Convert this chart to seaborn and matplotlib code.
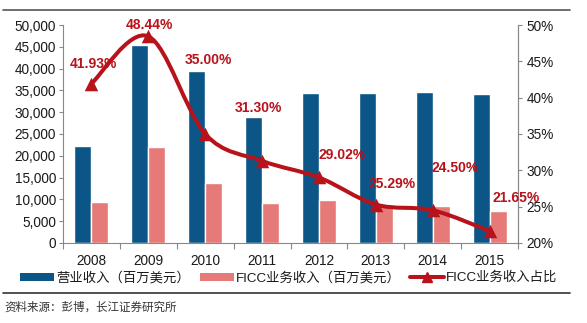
import matplotlib
matplotlib.use("Agg")
import matplotlib.pyplot as plt
import seaborn as sns
import pandas as pd
import numpy as np
from matplotlib.path import Path
from matplotlib.patches import PathPatch, Patch
from matplotlib.lines import Line2D
from matplotlib.ticker import FuncFormatter, FixedLocator

years = ["2008", "2009", "2010", "2011", "2012", "2013", "2014", "2015"]
revenue = [22300, 45400, 39500, 29000, 34300, 34300, 34700, 34100]
ficc = [9350, 21990, 13830, 9080, 9950, 8670, 8500, 7380]
ratio = [41.93, 48.44, 35.00, 31.30, 29.02, 25.29, 24.50, 21.65]
series_names = ["营业收入（百万美元）", "FICC业务收入（百万美元）", "FICC业务收入占比"]
source_text = "资料来源：彭博，长江证券研究所"

BLUE = "#0C5587"
PINK = "#E57A78"
RED = "#B8121B"
TXT = "#1a1a1a"

sns.set_theme(style="white")
plt.rcParams["font.family"] = ["Liberation Sans", "Noto Sans CJK SC", "DejaVu Sans"]

fig = plt.figure(figsize=(5.87, 3.23), dpi=100)
ax = fig.add_axes([0.1073, 0.2477, 0.7752, 0.6749])

df = pd.DataFrame({
    "year": years * 2,
    "value": revenue + ficc,
    "series": [series_names[0]] * 8 + [series_names[1]] * 8,
})
sns.barplot(data=df, x="year", y="value", hue="series", palette=[BLUE, PINK],
            width=0.6, ax=ax, legend=False, saturation=1, gap=0)

ax.set_xlim(-0.5, 7.5)
ax.set_ylim(0, 50000)
ax.yaxis.set_major_locator(FixedLocator(np.arange(0, 50001, 5000)))
ax.yaxis.set_major_formatter(FuncFormatter(lambda v, p: f"{int(v):,}"))
ax.set_xlabel("")
ax.set_ylabel("")
ax.tick_params(axis="y", labelsize=9.8, length=3, width=0.8, direction="out", left=True, pad=2, colors="#888888")
for lbl in ax.get_yticklabels():
    lbl.set_color(TXT)
ax.tick_params(axis="x", labelsize=9.8, length=0, pad=8)
for lbl in ax.get_xticklabels():
    lbl.set_color(TXT)
ax.set_xticks(np.arange(-0.5, 8.0, 1.0), minor=True)
ax.tick_params(axis="x", which="minor", length=4, width=0.8, color="#888888", direction="out", bottom=True)
ax.spines["top"].set_visible(False)
for s in ["left", "bottom", "right"]:
    ax.spines[s].set_color("#888888")
    ax.spines[s].set_linewidth(0.8)

ax2 = ax.twinx()
ax2.set_ylim(20, 50)
ax2.yaxis.set_major_locator(FixedLocator(np.arange(20, 51, 5)))
ax2.yaxis.set_major_formatter(FuncFormatter(lambda v, p: f"{int(v)}%"))
ax2.tick_params(axis="y", labelsize=9.8, length=3, width=0.8, direction="out", right=True, colors="#888888", pad=3)
for lbl in ax2.get_yticklabels():
    lbl.set_color(TXT)
for s in ["top", "left", "bottom"]:
    ax2.spines[s].set_visible(False)
ax2.spines["right"].set_color("#888888")
ax2.spines["right"].set_linewidth(0.8)
ax2.grid(False)
ax.grid(False)

# smoothed line (Catmull-Rom as Bezier) through the data points
xs = np.arange(len(ratio), dtype=float)
pts = np.column_stack([xs, np.array(ratio, dtype=float)])
verts = [tuple(pts[0])]
codes = [Path.MOVETO]
n = len(pts)
for i in range(n - 1):
    p0 = pts[i - 1] if i > 0 else pts[i]
    p1 = pts[i]
    p2 = pts[i + 1]
    p3 = pts[i + 2] if i + 2 < n else pts[i + 1]
    c1 = p1 + (p2 - p0) / 6.0
    c2 = p2 - (p3 - p1) / 6.0
    verts += [tuple(c1), tuple(c2), tuple(p2)]
    codes += [Path.CURVE4] * 3
ax2.add_patch(PathPatch(Path(verts, codes), facecolor="none", edgecolor=RED,
                        lw=2.9, capstyle="round", joinstyle="round", zorder=3))
sns.scatterplot(x=xs, y=ratio, marker="^", s=95, color=RED, edgecolor=RED,
                linewidth=0, ax=ax2, zorder=4, legend=False)

offsets = [(2.5, 20), (1.5, 11), (3, 74), (-4, 53), (23, 22), (16, 21), (22, 42), (27, 33)]
for xi, r, (dx, dy) in zip(xs, ratio, offsets):
    ax2.annotate(f"{r:.2f}%", (xi, r), xytext=(dx, dy), textcoords="offset pixels",
                 ha="center", va="center", fontsize=10, fontweight="bold", color=RED, zorder=5)

handles = [Patch(facecolor=BLUE, edgecolor="none"),
           Patch(facecolor=PINK, edgecolor="none"),
           Line2D([0], [0], color=RED, lw=2.9, marker="^", markersize=7)]
legend_x = [20, 200, 410]
for h, name, lx in zip(handles, series_names, legend_x):
    leg = fig.legend([h], [name], loc="center left", bbox_to_anchor=(lx / 587, 1 - 278 / 323),
                     frameon=False, fontsize=9.6, handlelength=2.55, handleheight=0.55,
                     handletextpad=0.15, borderaxespad=0, borderpad=0)
    for t in leg.get_texts():
        t.set_color(TXT)

fig.add_artist(Line2D([0.005, 0.971], [1 - 10 / 323, 1 - 10 / 323], color="#555555", lw=1.2))
fig.add_artist(Line2D([0.005, 0.971], [1 - 293 / 323, 1 - 293 / 323], color="#333333", lw=1.2))
fig.text(0.008, 1 - 308 / 323, source_text, fontsize=8.3, color="#333333", va="center", ha="left")

fig.savefig("out.png", dpi=100)
